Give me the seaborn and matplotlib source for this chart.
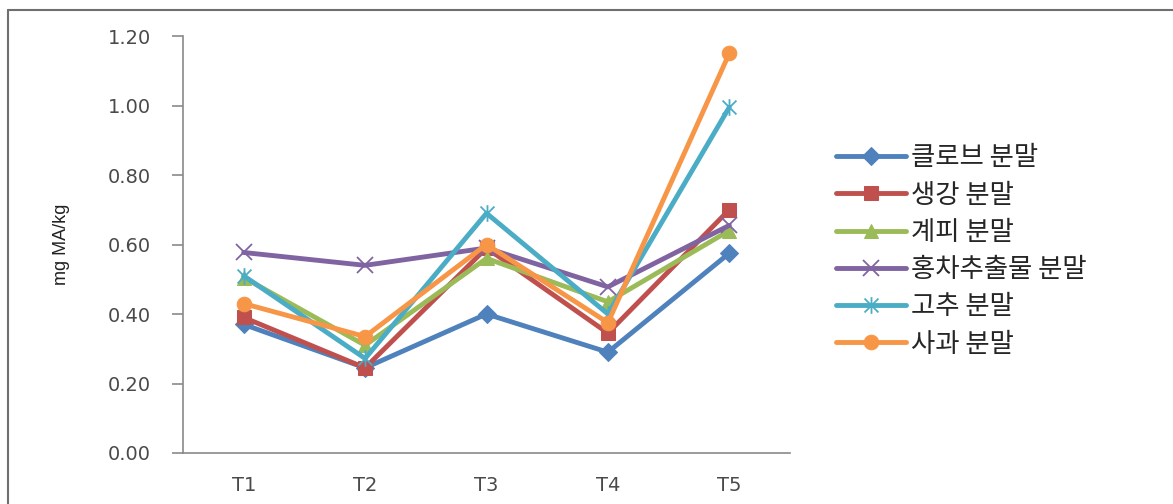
import matplotlib
matplotlib.use("Agg")
import matplotlib.pyplot as plt
from matplotlib.path import Path
from matplotlib.lines import Line2D
import seaborn as sns
import pandas as pd

# Sampling points
stages = ["T1", "T2", "T3", "T4", "T5"]

# Malonaldehyde content (mg MA/kg) for each powder treatment
clove = [0.37, 0.245, 0.40, 0.29, 0.575]
ginger = [0.39, 0.245, 0.59, 0.345, 0.70]
cinnamon = [0.505, 0.31, 0.56, 0.435, 0.64]
black_tea = [0.577, 0.54, 0.59, 0.478, 0.655]
red_pepper = [0.51, 0.272, 0.69, 0.40, 0.995]
apple = [0.43, 0.335, 0.60, 0.375, 1.15]

series_names = ["클로브 분말", "생강 분말", "계피 분말", "홍차추출물 분말", "고추 분말", "사과 분말"]
series_values = [clove, ginger, cinnamon, black_tea, red_pepper, apple]
colors = ["#4F81BD", "#C0504D", "#9BBB59", "#8064A2", "#4BACC6", "#F79646"]
y_ticks = [0.0, 0.2, 0.4, 0.6, 0.8, 1.0, 1.2]

# asterisk-style marker: an X crossed by a vertical stroke
star_path = Path(
    [(-1, -1), (1, 1), (-1, 1), (1, -1), (0, -1.2), (0, 1.2)],
    [Path.MOVETO, Path.LINETO, Path.MOVETO, Path.LINETO, Path.MOVETO, Path.LINETO],
)
marker_styles = [
    dict(marker="D", markersize=9),
    dict(marker="s", markersize=9.5),
    dict(marker="^", markersize=10.5),
    dict(marker="x", markersize=11, markeredgewidth=1.3),
    dict(marker=star_path, markersize=12, markeredgewidth=1.3),
    dict(marker="o", markersize=10.5),
]

sns.set_style("white")
plt.rcParams["font.family"] = ["Noto Sans CJK KR", "DejaVu Sans"]

W, H = 1173, 504
fig = plt.figure(figsize=(W / 100, H / 100), dpi=100)
ax = fig.add_axes([183 / W, 51 / H, 607 / W, 417 / H])

for name, vals, col, ms in zip(series_names, series_values, colors, marker_styles):
    df = pd.DataFrame({"stage": stages, "value": vals})
    sns.lineplot(
        data=df, x="stage", y="value", ax=ax, color=col, linewidth=3.5,
        markeredgecolor=col, markerfacecolor=col, sort=False, label=name,
        **ms,
    )

if ax.get_legend() is not None:
    ax.get_legend().remove()

ax.set_xlim(-0.5, 4.5)
ax.set_ylim(0, 1.2)
ax.set_yticks(y_ticks)
ax.set_yticklabels([f"{v:.2f}" for v in y_ticks])
ax.set_xlabel("")
ax.set_ylabel("mg MA/kg", family=["Liberation Sans"], fontsize=13, color="#222222")
ax.yaxis.set_label_coords(-0.186, 0.5)

for side in ("top", "right"):
    ax.spines[side].set_visible(False)
for side in ("left", "bottom"):
    ax.spines[side].set_color("#8a8a8a")
    ax.spines[side].set_linewidth(1.2)

ax.tick_params(axis="y", which="major", left=True, length=8, width=1.2,
               color="#8a8a8a", pad=15, labelsize=14, labelcolor="#4a4a4a")
ax.tick_params(axis="x", which="major", bottom=False, pad=13,
               labelsize=14, labelcolor="#4a4a4a")
for lab in ax.get_xticklabels() + ax.get_yticklabels():
    lab.set_family(["DejaVu Sans"])

handles, labels = ax.get_legend_handles_labels()
fig.legend(
    handles, labels, loc="center left",
    bbox_to_anchor=(836 / W, 1 - 251 / H), bbox_transform=fig.transFigure,
    frameon=False, fontsize=19, handlelength=2.65, handletextpad=0.2,
    labelspacing=0.39, borderpad=0, borderaxespad=0,
)

# chart-area frame along the top and left edges
fig.add_artist(Line2D([8 / W, 1], [1 - 10 / H, 1 - 10 / H], transform=fig.transFigure,
                      color="#6f6f6f", linewidth=1.5))
fig.add_artist(Line2D([8 / W, 8 / W], [0, 1 - 10 / H], transform=fig.transFigure,
                      color="#6f6f6f", linewidth=1.5))

fig.savefig("out.png", dpi=100, facecolor="white")
